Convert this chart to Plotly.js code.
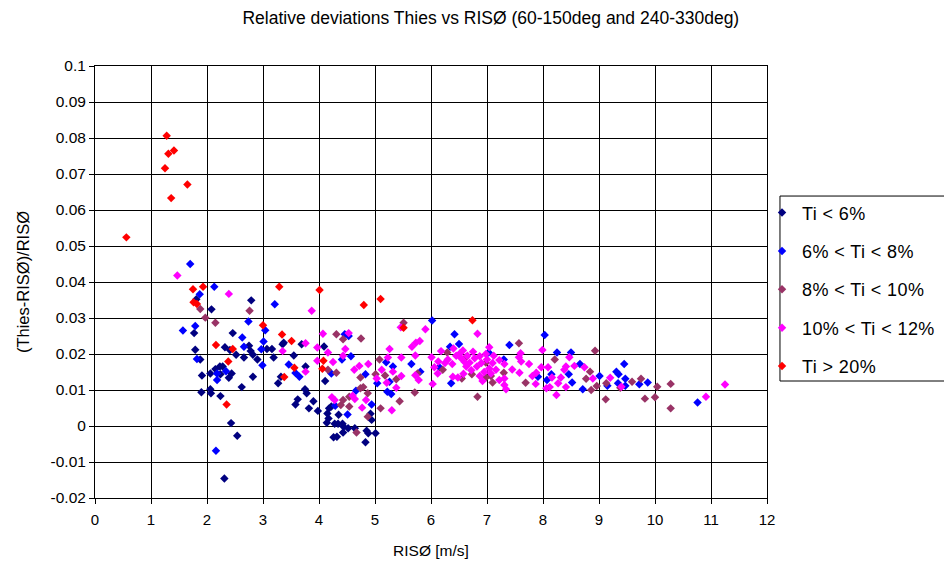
<!DOCTYPE html>
<html>
<head>
<meta charset="utf-8">
<script src="https://cdn.plot.ly/plotly-3.0.1.min.js"></script>
<style>
html,body{margin:0;padding:0;background:#fff;}
#chart{width:944px;height:568px;}
#chart .legendtext{letter-spacing:0.4px;}
</style>
</head>
<body>
<div id="chart"></div>
<script>
// Series names
var seriesNames = ["Ti < 6%", "6% < Ti < 8%", "8% < Ti < 10%", "10% < Ti < 12%", "Ti > 20%"];
var seriesColors = ["#000080", "#0000FF", "#993366", "#FF00FF", "#FF0000"];

// [RISØ wind speed m/s, relative deviation]
var tiBelow6 = [[1.77,0.0258],[1.79,0.0212],[1.81,0.0352],[1.88,0.0185],[1.9,0.0094],[1.91,0.014],[2.06,0.0146],[2.06,0.0102],[2.07,0.0091],[2.08,0.0324],[2.15,0.0158],[2.23,0.0165],[2.24,0.0144],[2.24,0.0083],[2.28,0.0165],[2.31,-0.0146],[2.32,0.0219],[2.39,0.0134],[2.41,0.0211],[2.43,0.0008],[2.44,0.0146],[2.46,0.0258],[2.52,0.0198],[2.54,-0.0027],[2.62,0.0108],[2.66,0.019],[2.75,0.0223],[2.78,0.0208],[2.79,0.0349],[2.82,0.0198],[2.82,0.0137],[2.9,0.0185],[3.07,0.0214],[3.16,0.0214],[3.19,0.019],[3.27,0.0119],[3.32,0.0137],[3.35,0.0227],[3.37,0.0231],[3.55,0.0196],[3.58,0.006],[3.62,0.0074],[3.69,0.0227],[3.75,0.0102],[3.76,0.0165],[3.78,0.0091],[3.82,0.0049],[3.9,0.0069],[3.98,0.0042],[4.09,0.0221],[4.11,0.0125],[4.14,0.0009],[4.15,0.0035],[4.17,0.0021],[4.18,0.0049],[4.22,0.0054],[4.26,-0.0031],[4.28,0.0006],[4.32,-0.003],[4.34,0.0006],[4.35,0.0031],[4.42,0.0006],[4.43,-0.0018],[4.44,-0.0002],[4.52,-0.0006],[4.64,-0.0006],[4.83,-0.0045],[4.85,-0.0013],[4.88,-0.002],[4.92,0.0034],[4.94,0.0017],[5.01,-0.002]];

var ti6to8 = [[1.57,0.0265],[1.7,0.045],[1.79,0.0278],[1.82,0.0186],[1.87,0.0366],[2.13,0.0387],[2.16,-0.0069],[2.18,0.0146],[2.18,0.0128],[2.34,0.0152],[2.63,0.0246],[2.66,0.022],[2.74,0.029],[2.97,0.0213],[2.99,0.0169],[3.01,0.0235],[3.04,0.0266],[3.21,0.0338],[3.46,0.0171],[3.58,0.0147],[3.65,0.0137],[4.22,0.0146],[4.29,0.0056],[4.41,0.0185],[4.46,0.0255],[4.51,0.0032],[4.53,0.025],[4.57,0.0194],[4.66,0.0098],[4.83,0.0144],[4.94,0.006],[5.04,0.0119],[5.2,0.0177],[5.22,0.0095],[5.26,0.0123],[5.29,0.0089],[5.32,0.0165],[5.65,0.0172],[5.81,0.0151],[6.02,0.0293],[6.15,0.0163],[6.34,0.022],[6.36,0.0119],[6.42,0.0255],[6.5,0.0228],[7.03,0.0204],[7.3,0.0185],[7.4,0.0225],[7.91,0.0137],[8.03,0.0253],[8.07,0.0128],[8.15,0.0144],[8.25,0.0204],[8.46,0.0144],[8.5,0.0204],[8.52,0.0121],[8.66,0.0172],[8.71,0.0102],[9.01,0.0139],[9.15,0.0112],[9.31,0.0151],[9.35,0.0144],[9.34,0.0119],[9.45,0.0172],[9.47,0.0131],[9.47,0.0112],[9.72,0.0116],[9.87,0.0121],[10.76,0.0065]];

var ti8to10 = [[1.88,0.0325],[1.97,0.0301],[2.15,0.0287],[2.76,0.032],[4.16,0.0156],[4.31,0.0255],[4.31,0.0148],[4.39,0.0058],[4.43,0.0241],[4.43,0.0072],[4.54,0.0081],[4.54,0.0054],[4.67,-0.0018],[4.74,0.0135],[4.74,0.0105],[4.75,0.0243],[4.79,0.0108],[4.87,0.0091],[4.87,0.0026],[5.01,0.0144],[5.08,0.0185],[5.1,0.0049],[5.18,0.014],[5.38,0.013],[5.44,0.0069],[5.51,0.0287],[5.71,0.0093],[5.76,0.0146],[6.21,0.0156],[6.29,0.0204],[6.55,0.0132],[6.62,0.019],[6.73,0.0144],[6.83,0.0081],[6.98,0.0176],[6.98,0.0135],[7.07,0.0139],[7.1,0.0121],[7.3,0.0148],[7.57,0.023],[7.69,0.012],[8.21,0.0185],[8.77,0.0131],[8.84,0.0151],[8.86,0.01],[8.93,0.0209],[8.96,0.0111],[9.12,0.0074],[9.13,0.0119],[9.38,0.0106],[9.59,0.0123],[9.75,0.0131],[9.82,0.0076],[10.0,0.008],[10.04,0.0109],[10.28,0.0117],[10.28,0.0049]];

var ti10to12 = [[1.47,0.0418],[2.39,0.0367],[3.35,0.0208],[3.76,0.023],[3.76,0.0151],[3.87,0.032],[3.97,0.0218],[3.97,0.0181],[4.07,0.0256],[4.16,0.0204],[4.23,0.008],[4.25,0.0178],[4.28,0.0072],[4.43,0.0195],[4.47,0.0214],[4.53,0.0258],[4.6,0.0084],[4.63,0.0156],[4.64,0.0075],[4.72,0.0167],[4.77,0.0051],[4.84,0.0072],[4.88,0.0172],[5.03,0.0132],[5.12,0.0156],[5.21,0.012],[5.23,0.019],[5.26,0.0214],[5.3,0.0044],[5.32,0.0151],[5.38,0.0106],[5.46,0.0274],[5.47,0.019],[5.47,0.0139],[5.66,0.022],[5.72,0.0196],[5.72,0.0141],[5.73,0.0231],[5.78,0.0128],[5.8,0.0236],[5.9,0.0269],[6.01,0.0191],[6.03,0.0117],[6.06,0.0163],[6.12,0.0146],[6.13,0.0179],[6.18,0.0208],[6.25,0.0175],[6.3,0.0185],[6.38,0.0172],[6.39,0.0137],[6.4,0.0215],[6.45,0.0195],[6.48,0.0135],[6.52,0.0202],[6.54,0.0188],[6.57,0.021],[6.58,0.0145],[6.6,0.0178],[6.63,0.0165],[6.65,0.0195],[6.69,0.0176],[6.72,0.0155],[6.75,0.0206],[6.78,0.0188],[6.82,0.0165],[6.83,0.0256],[6.87,0.0194],[6.87,0.0139],[6.9,0.0175],[6.92,0.0125],[6.95,0.015],[6.98,0.02],[7.0,0.0185],[7.04,0.0219],[7.04,0.016],[7.07,0.0146],[7.1,0.0175],[7.12,0.0195],[7.16,0.0156],[7.22,0.0183],[7.22,0.0128],[7.31,0.0132],[7.31,0.0114],[7.31,0.0172],[7.34,0.0102],[7.45,0.0157],[7.57,0.0191],[7.58,0.0148],[7.6,0.0202],[7.61,0.0179],[7.75,0.0172],[7.81,0.0139],[7.87,0.0117],[7.88,0.0148],[7.97,0.0163],[7.99,0.0211],[8.06,0.0105],[8.09,0.0163],[8.12,0.0108],[8.16,0.0135],[8.24,0.0086],[8.27,0.0119],[8.32,0.0135],[8.38,0.0156],[8.41,0.0165],[8.41,0.0108],[8.47,0.0191],[8.56,0.0167],[8.74,0.0163],[8.89,0.0132],[9.2,0.0134],[9.4,0.0109],[10.91,0.0081],[11.25,0.0115]];

var tiAbove20 = [[0.56,0.0524],[1.25,0.0716],[1.28,0.0806],[1.31,0.0756],[1.36,0.0633],[1.41,0.0765],[1.65,0.0671],[1.75,0.038],[1.76,0.0344],[1.82,0.0339],[1.93,0.0387],[2.16,0.0225],[2.35,0.006],[2.38,0.0179],[2.46,0.0214],[3.0,0.028],[3.29,0.0387],[3.34,0.0254],[3.38,0.0136],[3.51,0.0236],[3.56,0.0162],[4.01,0.0378],[4.06,0.0159],[4.08,0.0181],[4.8,0.0336],[5.1,0.0353],[5.51,0.0273],[6.74,0.0294]];

var allSeries = [tiBelow6, ti6to8, ti8to10, ti10to12, tiAbove20];

var yTickVals = [0.1,0.09,0.08,0.07,0.06,0.05,0.04,0.03,0.02,0.01,0,-0.01,-0.02];
var yTickText = ["0.1","0.09","0.08","0.07","0.06","0.05","0.04","0.03","0.02","0.01","0","-0.01","-0.02"];
var xTickVals = [0,1,2,3,4,5,6,7,8,9,10,11,12];

var traces = allSeries.map(function(s, i){
  return {
    type: 'scatter', mode: 'markers', name: seriesNames[i],
    legendgroup: 'g' + i,
    x: s.map(function(p){return p[0];}),
    y: s.map(function(p){return p[1];}),
    marker: {symbol: 'diamond', size: 6.5, color: seriesColors[i], line: {width: 0}},
    cliponaxis: false
  };
});

var fontFam = 'Arial, "Liberation Sans", sans-serif';
var layout = {
  width: 944, height: 568,
  paper_bgcolor: '#fff', plot_bgcolor: '#fff',
  margin: {l: 95, r: 177, t: 66, b: 70, autoexpand: false},
  font: {family: fontFam, size: 15, color: '#000'},
  title: {text: 'Relative deviations Thies vs RISØ (60-150deg and 240-330deg)',
          font: {family: fontFam, size: 17.5, color: '#000'},
          xref: 'paper', x: 0.589, xanchor: 'center', yref: 'container', y: 0.968, yanchor: 'middle'},
  xaxis: {
    range: [0, 12], tickvals: xTickVals, ticktext: xTickVals.map(String),
    showgrid: true, gridcolor: '#000', gridwidth: 1,
    showline: true, linecolor: '#000', linewidth: 1, mirror: true,
    ticks: 'outside', ticklen: 5, tickcolor: '#000',
    ticklabelstandoff: 3,
    zeroline: false,
    tickfont: {family: fontFam, size: 15, color: '#000'},
    title: {text: 'RISØ [m/s]', font: {family: fontFam, size: 15.5, color: '#000'}, standoff: 18}
  },
  yaxis: {
    range: [-0.02, 0.1], tickvals: yTickVals, ticktext: yTickText,
    showgrid: true, gridcolor: '#000', gridwidth: 1,
    showline: true, linecolor: '#000', linewidth: 1, mirror: true,
    ticks: 'outside', ticklen: 5, tickcolor: '#000',
    zeroline: false,
    tickfont: {family: fontFam, size: 15.5, color: '#000'},
    title: {text: '(Thies-RISØ)/RISØ', font: {family: fontFam, size: 16.5, color: '#000'}, standoff: 16}
  },
  showlegend: true,
  legend: {
    x: 0.9926, xanchor: 'left', y: 0.703, yanchor: 'top',
    borderwidth: 0, bgcolor: 'rgba(0,0,0,0)',
    font: {family: fontFam, size: 18, color: '#000'},
    tracegroupgap: 12, itemsizing: 'trace'
  },
  shapes: [{
    type: 'rect', xref: 'paper', yref: 'paper',
    x0: 1.0193, x1: 1.28, y0: 0.2708, y1: 0.699,
    line: {color: '#000', width: 1}, fillcolor: 'rgba(0,0,0,0)', layer: 'below'
  }]
};

Plotly.newPlot('chart', traces, layout, {displayModeBar: false, staticPlot: true});
</script>
</body>
</html>
